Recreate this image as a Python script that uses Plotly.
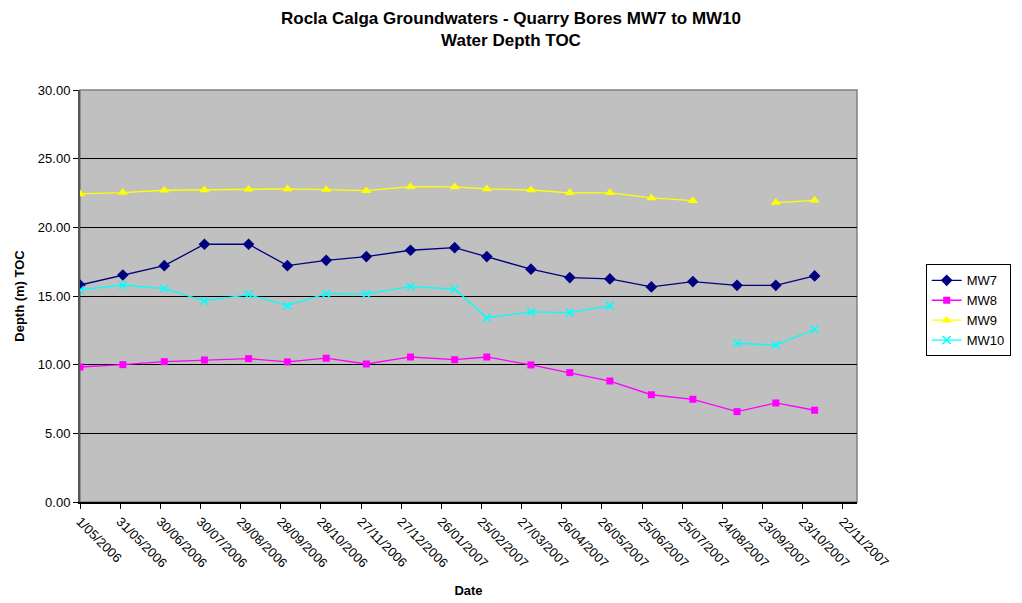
import plotly.graph_objects as go
from datetime import datetime

# ---- data ----
dates = ["2006-05-01", "2006-06-02", "2006-07-03", "2006-08-02", "2006-09-04",
         "2006-10-03", "2006-11-01", "2006-12-01", "2007-01-03", "2007-02-05",
         "2007-03-01", "2007-04-03", "2007-05-02", "2007-06-01", "2007-07-02",
         "2007-08-02", "2007-09-04", "2007-10-03", "2007-11-01"]
mw7 = [15.80, 16.53, 17.21, 18.77, 18.77, 17.21, 17.60, 17.87, 18.33, 18.52,
       17.87, 16.95, 16.34, 16.24, 15.66, 16.05, 15.78, 15.78, 16.46]
mw8 = [9.83, 10.00, 10.22, 10.34, 10.44, 10.20, 10.47, 10.05, 10.56, 10.36,
       10.56, 9.98, 9.42, 8.81, 7.81, 7.48, 6.58, 7.21, 6.68]
mw9 = [22.43, 22.53, 22.70, 22.72, 22.77, 22.80, 22.75, 22.67, 22.96, 22.94,
       22.80, 22.72, 22.51, 22.51, 22.14, 21.94, None, 21.80, 21.97]
mw10 = [15.44, 15.80, 15.54, 14.64, 15.10, 14.30, 15.17, 15.15, 15.68, 15.51,
        13.42, 13.84, 13.79, 14.28, None, None, 11.56, 11.43, 12.58]

tick_labels = ["1/05/2006", "31/05/2006", "30/06/2006", "30/07/2006", "29/08/2006",
               "28/09/2006", "28/10/2006", "27/11/2006", "27/12/2006", "26/01/2007",
               "25/02/2007", "27/03/2007", "26/04/2007", "26/05/2007", "25/06/2007",
               "25/07/2007", "24/08/2007", "23/09/2007", "23/10/2007", "22/11/2007"]
tick_vals = [datetime.strptime(t, "%d/%m/%Y").strftime("%Y-%m-%d") for t in tick_labels]

FONT = "Liberation Sans, Arial, sans-serif"

series = [
    ("MW7", mw7, "#000080", "diamond", 9),
    ("MW8", mw8, "#FF00FF", "square", 7),
    ("MW9", mw9, "#FFFF00", "triangle-up", 9),
    ("MW10", mw10, "#00FFFF", "x-thin", 8),
]

fig = go.Figure()
for name, vals, color, sym, size in series:
    marker = dict(symbol=sym, size=size, color=color)
    if sym == "x-thin":
        marker["line"] = dict(color=color, width=1.5)
    fig.add_trace(go.Scatter(
        x=dates, y=vals, name=name, mode="lines+markers",
        line=dict(color=color, width=1.3), marker=marker,
        connectgaps=False,
    ))

fig.update_layout(
    width=1022, height=603,
    margin=dict(l=80, r=164, t=90, b=101),
    paper_bgcolor="white",
    plot_bgcolor="#C0C0C0",
    font=dict(family=FONT, size=12, color="black"),
    title=dict(
        text="<b>Rocla Calga Groundwaters - Quarry Bores MW7 to MW10<br>Water Depth TOC</b>",
        x=0.5, xanchor="center", y=0.96, yanchor="top",
        font=dict(family=FONT, size=17, color="black"),
    ),
    showlegend=True,
    legend=dict(
        x=1.087, xanchor="left", y=0.465, yanchor="middle",
        bordercolor="black", borderwidth=1, bgcolor="white",
        font=dict(family=FONT, size=13),
        tracegroupgap=0,
    ),
    xaxis=dict(
        type="date",
        range=["2006-05-01", "2007-12-02 16:00"],
        tickmode="array", tickvals=tick_vals, ticktext=tick_labels,
        tickangle=45, ticks="outside", ticklen=5, tickcolor="black",
        showgrid=False, zeroline=False,
        showline=True, linecolor="black", linewidth=1.5,
        title=dict(text="<b>Date</b>", font=dict(family=FONT, size=13), standoff=16),
        tickfont=dict(family=FONT, size=13),
        automargin=False,
    ),
    yaxis=dict(
        range=[0, 30], dtick=5, tickformat=".2f",
        ticks="outside", ticklen=5, tickcolor="black",
        showgrid=True, gridcolor="black", gridwidth=1,
        zeroline=False,
        showline=True, linecolor="#555555", linewidth=2,
        title=dict(text="<b>Depth (m) TOC</b>", font=dict(family=FONT, size=13), standoff=10),
        tickfont=dict(family=FONT, size=13),
        automargin=False,
    ),
    shapes=[dict(type="rect", xref="paper", yref="paper", x0=0, x1=1, y0=0, y1=1,
                 line=dict(color="#808080", width=1.5), fillcolor="rgba(0,0,0,0)", layer="below")],
)

fig.write_html("out.html", config={"displayModeBar": False},
               post_script="document.body.style.margin='0';")
